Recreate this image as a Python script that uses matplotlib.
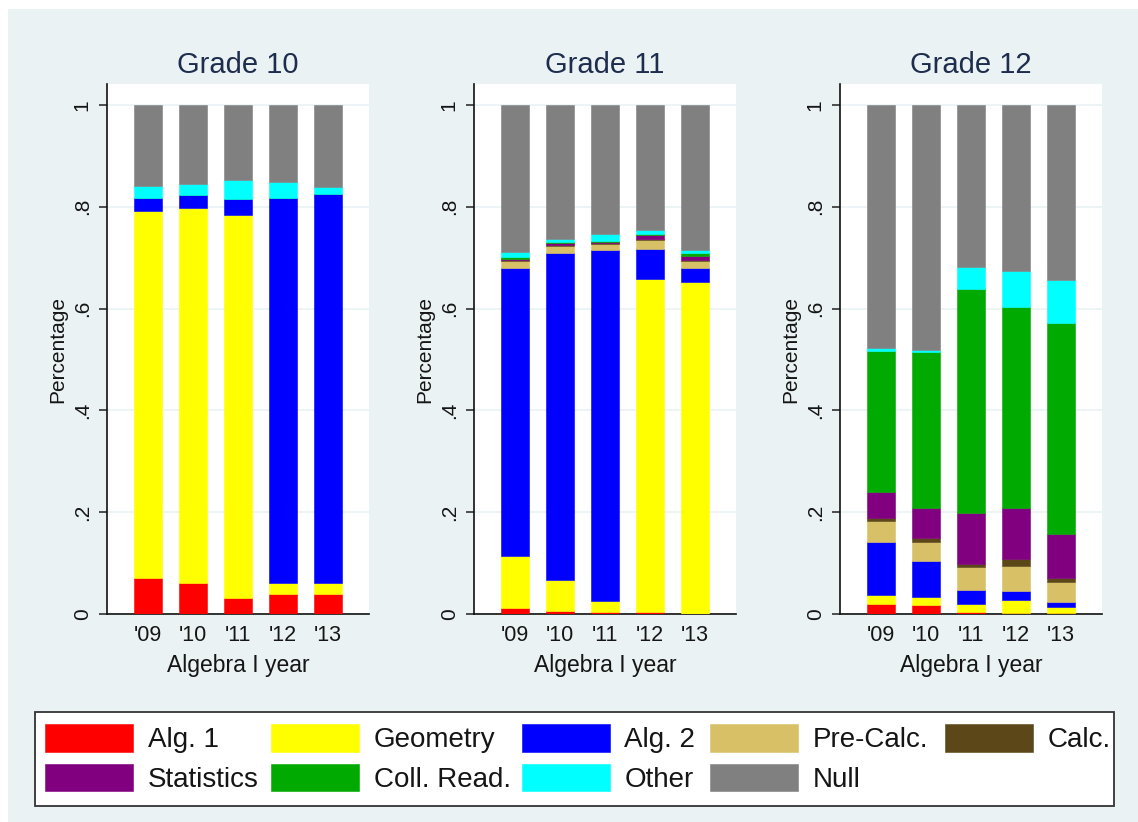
import matplotlib
matplotlib.use("Agg")
import matplotlib.pyplot as plt
from matplotlib.patches import Rectangle, Patch
import numpy as np

plt.rcParams['font.family'] = ['Liberation Sans', 'DejaVu Sans']

years = ["'09", "'10", "'11", "'12", "'13"]
grades = ["Grade 10", "Grade 11", "Grade 12"]
courses = ["Alg. 1", "Geometry", "Alg. 2", "Pre-Calc.", "Calc.",
           "Statistics", "Coll. Read.", "Other", "Null"]
colors = ["#FF0000", "#FFFF00", "#0000FF", "#D8C066", "#5C4718",
          "#800080", "#00AA00", "#00FFFF", "#808080"]

# share of students in each course, per Algebra I year
grade10 = {
    "Alg. 1":      [0.071, 0.061, 0.031, 0.039, 0.039],
    "Geometry":    [0.721, 0.736, 0.752, 0.021, 0.021],
    "Alg. 2":      [0.025, 0.025, 0.032, 0.757, 0.765],
    "Pre-Calc.":   [0.000, 0.000, 0.000, 0.000, 0.000],
    "Calc.":       [0.000, 0.000, 0.000, 0.000, 0.000],
    "Statistics":  [0.000, 0.000, 0.000, 0.000, 0.000],
    "Coll. Read.": [0.000, 0.000, 0.000, 0.000, 0.000],
    "Other":       [0.023, 0.022, 0.037, 0.031, 0.013],
    "Null":        [0.160, 0.156, 0.148, 0.152, 0.162],
}
grade11 = {
    "Alg. 1":      [0.012, 0.006, 0.003, 0.003, 0.000],
    "Geometry":    [0.102, 0.060, 0.022, 0.655, 0.652],
    "Alg. 2":      [0.565, 0.643, 0.689, 0.059, 0.027],
    "Pre-Calc.":   [0.015, 0.013, 0.013, 0.017, 0.015],
    "Calc.":       [0.002, 0.002, 0.001, 0.002, 0.002],
    "Statistics":  [0.002, 0.005, 0.002, 0.008, 0.007],
    "Coll. Read.": [0.003, 0.002, 0.003, 0.003, 0.006],
    "Other":       [0.010, 0.005, 0.013, 0.008, 0.005],
    "Null":        [0.289, 0.264, 0.254, 0.245, 0.286],
}
grade12 = {
    "Alg. 1":      [0.020, 0.017, 0.004, 0.002, 0.001],
    "Geometry":    [0.018, 0.016, 0.015, 0.026, 0.013],
    "Alg. 2":      [0.103, 0.071, 0.028, 0.017, 0.009],
    "Pre-Calc.":   [0.041, 0.037, 0.046, 0.050, 0.040],
    "Calc.":       [0.007, 0.009, 0.005, 0.013, 0.008],
    "Statistics":  [0.050, 0.059, 0.100, 0.101, 0.087],
    "Coll. Read.": [0.278, 0.305, 0.440, 0.394, 0.413],
    "Other":       [0.005, 0.005, 0.044, 0.070, 0.086],
    "Null":        [0.478, 0.481, 0.318, 0.327, 0.343],
}
panels = [grade10, grade11, grade12]

W, H = 1138, 822
fig = plt.figure(figsize=(W / 100, H / 100), dpi=100, facecolor="white")
fig.patches.append(Rectangle((8 / W, 0), 1 - 8 / W, 1 - 9 / H,
                             transform=fig.transFigure, facecolor="#EAF2F3",
                             edgecolor="none", zorder=-10))

lefts = [107, 474, 840]
ax_w, ax_top, ax_bot = 262, 84, 614
text_col = "#151515"
title_col = "#1E2D4E"

x = np.arange(len(years))
for left, name, data in zip(lefts, grades, panels):
    ax = fig.add_axes([left / W, (H - ax_bot) / H, ax_w / W, (ax_bot - ax_top) / H])
    ax.set_facecolor("white")
    bottom = np.zeros(len(years))
    for course, col in zip(courses, colors):
        vals = np.array(data[course])
        ax.bar(x, vals, width=0.63, bottom=bottom, color=col,
               edgecolor=col, linewidth=0.4, zorder=3)
        bottom += vals
    ax.set_xlim(-0.91, 4.91)
    ax.set_ylim(0, 1.041)
    ax.set_yticks([0, 0.2, 0.4, 0.6, 0.8, 1.0])
    ax.set_yticklabels(["0", ".2", ".4", ".6", ".8", "1"], rotation=90,
                       va="center", fontsize=15, color=text_col)
    ax.set_xticks(x)
    ax.set_xticklabels(years, fontsize=15.5, color=text_col)
    ax.tick_params(axis="x", length=0, pad=8)
    ax.tick_params(axis="y", length=6, width=1.1, pad=5, color="#222222")
    ax.grid(axis="y", color="#EAF2F3", linewidth=1.2, zorder=0)
    ax.set_axisbelow(True)
    for s in ("top", "right"):
        ax.spines[s].set_visible(False)
    for s in ("left", "bottom"):
        ax.spines[s].set_linewidth(1.2)
        ax.spines[s].set_color("#111111")
    ax.set_ylabel("Percentage", fontsize=15, color=text_col, labelpad=4)
    ax.set_xlabel("Algebra I year", fontsize=16.5, color=text_col, labelpad=6)
    ax.set_title(name, fontsize=21, color=title_col, pad=8)

# legend: one framed box holding five columns of keys
fig.patches.append(Rectangle((35 / W, 1 - 806 / H), (1114 - 35) / W, (806 - 712) / H,
                             transform=fig.transFigure, facecolor="white",
                             edgecolor="#333333", linewidth=1.3, zorder=5))
handles = [Patch(facecolor=c, edgecolor=c, linewidth=0.4) for c in colors]
columns = [[0, 5], [1, 6], [2, 7], [3, 8], [4]]
col_x = [45, 271, 522, 710, 945]
for idx, cx in zip(columns, col_x):
    leg = fig.legend([handles[i] for i in idx], [courses[i] for i in idx],
                     loc="upper left", bbox_to_anchor=(cx / W, 1 - 724 / H),
                     ncol=1, fontsize=20, frameon=False,
                     handlelength=3.15, handleheight=1.15, handletextpad=0.54,
                     labelspacing=0.38, borderpad=0, borderaxespad=0)
    leg.set_zorder(6)
    for t in leg.get_texts():
        t.set_color(text_col)

fig.savefig("out.png", dpi=100, facecolor="white")
